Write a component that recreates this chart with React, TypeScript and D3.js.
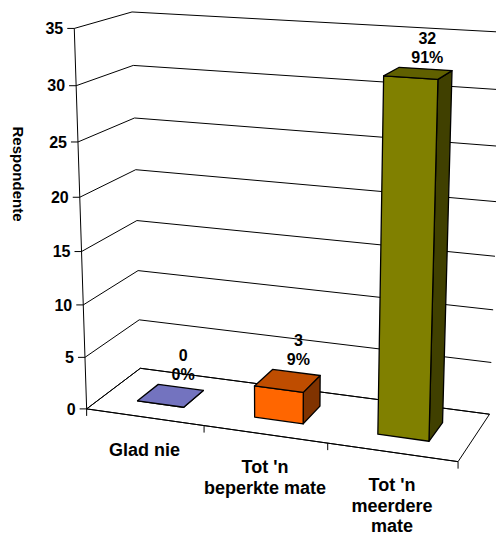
import React from "react";
import * as d3 from "d3";

// ---- data ----
const categories: string[][] = [["Glad nie"], ["Tot 'n", "beperkte mate"], ["Tot 'n", "meerdere", "mate"]];
const values: number[] = [0, 3, 32];
const baseColors: string[] = ["#9999FF", "#FF6600", "#808000"];
const yTicks: number[] = [0, 5, 10, 15, 20, 25, 30, 35];
const yMax = 35;
const axisTitle = "Respondente";

// ---- layout: frame calibration (category units, value, depth) -> screen px ----
const frameWorld: [number, number, number][] = [
  [0, 0, 0], [3, 0, 0], [0, 0, 1], [3, 0, 1], [0, 35, 0], [0, 35, 1],
  [0, 10, 0], [0, 20, 0], [0, 30, 0], [1, 0, 0], [2, 0, 0],
  [0, 30, 1], [0, 25, 1], [0, 20, 1], [0, 5, 1],
];
const frameScreen: [number, number][] = [
  [87.3, 409], [458.3, 461.7], [140, 368.3], [489.3, 414.3], [74, 28.7], [132.7, 11.7],
  [83.3, 305], [79, 196.7], [76.3, 86], [204, 425.5], [327.7, 443],
  [133.3, 65.7], [134, 117.7], [136, 169.7], [139.3, 320],
];

function solveCamera(world: number[][], screen: number[][]) {
  const S = 500;
  const rows: number[][] = [];
  const rhs: number[] = [];
  world.forEach(([x, y, z], i) => {
    const u = screen[i][0] / S, v = screen[i][1] / S;
    rows.push([x, y, z, 1, 0, 0, 0, 0, -u * x, -u * y, -u * z]); rhs.push(u);
    rows.push([0, 0, 0, 0, x, y, z, 1, -v * x, -v * y, -v * z]); rhs.push(v);
  });
  const n = 11;
  const A = Array.from({ length: n }, (_, i) =>
    Array.from({ length: n + 1 }, (_, j) =>
      j === n ? rows.reduce((s, r, k) => s + r[i] * rhs[k], 0) : rows.reduce((s, r) => s + r[i] * r[j], 0)
    )
  );
  for (let c = 0; c < n; c++) {
    let p = c;
    for (let r = c + 1; r < n; r++) if (Math.abs(A[r][c]) > Math.abs(A[p][c])) p = r;
    [A[c], A[p]] = [A[p], A[c]];
    for (let r = 0; r < n; r++) {
      if (r === c) continue;
      const f = A[r][c] / A[c][c];
      for (let k = c; k <= n; k++) A[r][k] -= f * A[c][k];
    }
  }
  const p = A.map((r, i) => r[n] / r[i]);
  return (x: number, y: number, z: number): [number, number] => {
    const w = p[8] * x + p[9] * y + p[10] * z + 1;
    return [(S * (p[0] * x + p[1] * y + p[2] * z + p[3])) / w, (S * (p[4] * x + p[5] * y + p[6] * z + p[7])) / w];
  };
}

const catIdx = d3.scaleLinear().domain([0, categories.length]).range([0, 1]);
const yScale = d3.scaleLinear().domain([0, yMax]).range([0, 1]);
const proj0 = solveCamera(
  frameWorld.map(([c, v, z]) => [catIdx(c), yScale(v), z]),
  frameScreen
);
const xBand = d3.scaleBand<number>().domain(d3.range(categories.length)).range([0, 1]).paddingInner(0.6).paddingOuter(0.3);
const zBand = d3.scaleBand<string>().domain(["s"]).range([0, 1]).paddingInner(0.6).paddingOuter(0.3);
const P = (x: number, v: number, z: number) => proj0(x, yScale(v), z);
const pts = (a: [number, number][]) => a.map((q) => q.join(",")).join(" ");
const shade = (c: string, k: number) => {
  const r = d3.rgb(c);
  return d3.rgb(r.r * k, r.g * k, r.b * k).formatHex();
};

const FONT = "'Liberation Sans', Arial, Helvetica, sans-serif";

export default function App() {
  const total = d3.sum(values);
  const X0 = catIdx(0), X3 = catIdx(categories.length);
  return (
    <div style={{ position: "fixed", left: 0, top: 0 }}>
      <svg width={496} height={536} style={{ display: "block", background: "#fff" }} fontFamily={FONT} fontWeight="bold">
        {/* side wall & back wall gridlines */}
        {yTicks.map((t) => {
          const a = P(X0, t, 0), b = P(X0, t, 1), c = P(X3, t, 1);
          return <polyline key={"g" + t} points={pts([a, b, c])} fill="none" stroke="#000" strokeWidth={1} />;
        })}
        {/* floor */}
        <polygon points={pts([P(X0, 0, 0), P(X3, 0, 0), P(X3, 0, 1), P(X0, 0, 1)])} fill="none" stroke="#000" strokeWidth={1} />
        {/* bars */}
        {values.map((v, i) => {
          const x0 = xBand(i)!, x1 = x0 + xBand.bandwidth();
          const z0 = zBand("s")!, z1 = z0 + zBand.bandwidth();
          const front = [P(x0, 0, z0), P(x1, 0, z0), P(x1, v, z0), P(x0, v, z0)];
          const top = [P(x0, v, z0), P(x1, v, z0), P(x1, v, z1), P(x0, v, z1)];
          const side = [P(x1, 0, z0), P(x1, 0, z1), P(x1, v, z1), P(x1, v, z0)];
          const c = baseColors[i];
          const minY = d3.min([...front, ...top, ...side], (q) => q[1])!;
          const lx = P((x0 + x1) / 2, v, 0.75)[0];
          const pct = Math.round((v / total) * 100) + "%";
          return (
            <g key={"b" + i}>
              <polygon points={pts(side)} fill={shade(c, 0.5)} stroke="#000" strokeWidth={1.3} strokeLinejoin="round" />
              <polygon points={pts(front)} fill={c} stroke="#000" strokeWidth={1.3} strokeLinejoin="round" />
              <polygon points={pts(top)} fill={shade(c, 0.75)} stroke="#000" strokeWidth={1.3} strokeLinejoin="round" />
              <text x={lx} y={minY - 4 - 19.5} textAnchor="middle" fontSize={16}>{v}</text>
              <text x={lx} y={minY - 4} textAnchor="middle" fontSize={16}>{pct}</text>
            </g>
          );
        })}
        {/* value axis */}
        <line x1={P(X0, 0, 0)[0]} y1={P(X0, 0, 0)[1]} x2={P(X0, yMax, 0)[0]} y2={P(X0, yMax, 0)[1]} stroke="#000" strokeWidth={1} />
        {yTicks.map((t) => {
          const [x, y] = P(X0, t, 0);
          return (
            <g key={"t" + t}>
              <line x1={x - 7} y1={y} x2={x} y2={y} stroke="#000" strokeWidth={1} />
              <text x={x - 11} y={y} dy="0.36em" textAnchor="end" fontSize={16}>{t}</text>
            </g>
          );
        })}
        {/* category axis */}
        <line x1={P(X0, 0, 0)[0]} y1={P(X0, 0, 0)[1]} x2={P(X3, 0, 0)[0]} y2={P(X3, 0, 0)[1]} stroke="#000" strokeWidth={1} />
        {d3.range(categories.length + 1).map((k) => {
          const [x, y] = P(catIdx(k), 0, 0);
          return <line key={"ct" + k} x1={x} y1={y} x2={x} y2={y + 7} stroke="#000" strokeWidth={1} />;
        })}
        {categories.map((lines, i) => {
          const [x, y] = P(catIdx(i + 0.5), 0, 0);
          return (
            <text key={"cl" + i} x={x} y={y + 39} textAnchor="middle" fontSize={18}>
              {lines.map((l, j) => (
                <tspan key={j} x={x} dy={j === 0 ? 0 : 20.5}>{l}</tspan>
              ))}
            </text>
          );
        })}
        <text transform="translate(18,174) rotate(90)" textAnchor="middle" dy="0.35em" fontSize={15}>{axisTitle}</text>
      </svg>
    </div>
  );
}
